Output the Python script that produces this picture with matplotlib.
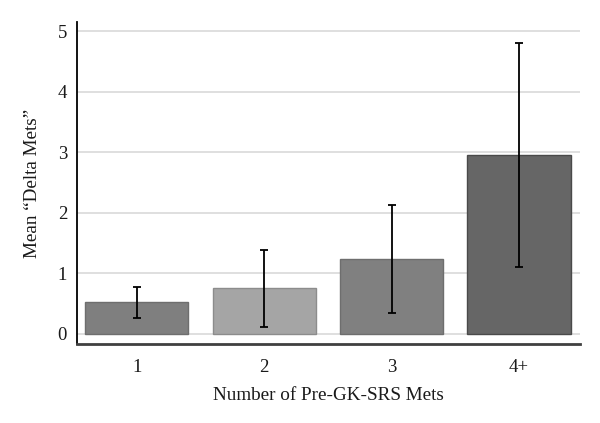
import matplotlib
matplotlib.use('Agg')
import matplotlib.pyplot as plt

categories = ['1', '2', '3', '4+']
means = [0.52, 0.75, 1.24, 2.95]
errors = [0.26, 0.63, 0.89, 1.85]
bar_colors = ['#7f7f7f', '#a5a5a5', '#808080', '#666666']
edge_colors = ['#6e6e6e', '#8c8c8c', '#6e6e6e', '#4a4a4a']

plt.rcParams['font.family'] = ['Liberation Serif', 'DejaVu Serif']

fig = plt.figure(figsize=(6, 4.23), dpi=100)
ax = fig.add_axes([0.128, 0.187, 0.839, 0.761])

x = range(len(categories))
ax.bar(x, means, width=0.81, color=bar_colors, edgecolor=edge_colors, linewidth=1.0, zorder=2)
ax.errorbar(x, means, yerr=errors, fmt='none', ecolor='black', elinewidth=1.3,
            capsize=3, capthick=1.3, zorder=3)

ax.set_xlim(-0.47, 3.48)
ax.set_ylim(-0.165, 5.15)
ax.set_yticks([0, 1, 2, 3, 4, 5])
ax.set_xticks(list(x))
ax.set_xticklabels(categories)
ax.yaxis.grid(True, color='#d9d9d9', linewidth=1.2, zorder=0)
ax.set_axisbelow(True)

ax.spines['top'].set_visible(False)
ax.spines['right'].set_visible(False)
ax.spines['left'].set_color('black')
ax.spines['left'].set_linewidth(1.3)
ax.spines['bottom'].set_color('#404040')
ax.spines['bottom'].set_linewidth(2)

ax.tick_params(axis='both', length=0, labelsize=13.5, colors='#1a1a1a')
ax.tick_params(axis='y', pad=7)
ax.tick_params(axis='x', pad=11)

ax.set_xlabel('Number of Pre-GK-SRS Mets', fontsize=13.8, labelpad=8, color='#1a1a1a')
ax.set_ylabel('Mean \u201cDelta Mets\u201d', fontsize=13.8, labelpad=12, color='#1a1a1a')

fig.savefig('out.png', dpi=100)
